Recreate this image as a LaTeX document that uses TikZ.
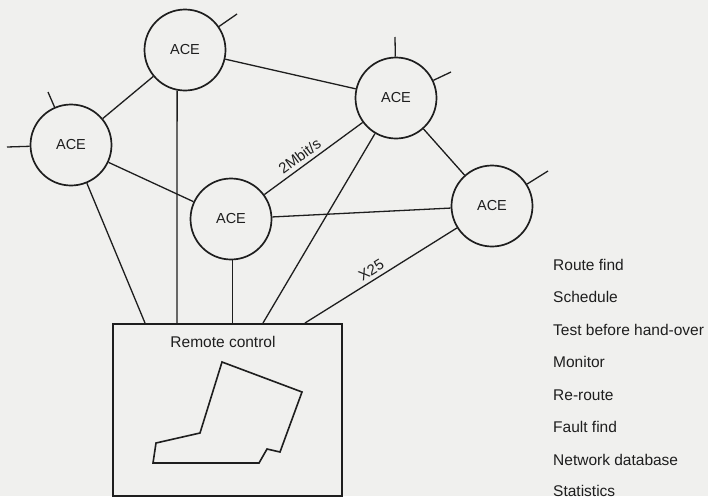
\documentclass[tikz,border=0pt]{standalone}
\usepackage{fontspec}
\setmainfont{Liberation Sans}
\definecolor{bgc}{RGB}{240,240,238}
\definecolor{ink}{RGB}{30,30,30}
\begin{document}
\begin{tikzpicture}[x=1pt,y=-1pt,
  ace/.style={circle,draw=ink,line width=1.7pt,minimum size=81pt,inner sep=0pt,
    text=ink,font=\fontsize{14.5}{17}\selectfont},
  link/.style={draw=ink,line width=1.3pt},
  lbl/.style={text=ink,inner sep=0pt,font=\fontsize{15.5}{18}\selectfont},
  tag/.style={text=ink,font=\fontsize{15}{18}\selectfont,sloped,above,inner sep=4pt}]
\useasboundingbox (0,0) rectangle (708,496);
\fill[bgc] (0,0) rectangle (708,496);
% ACE nodes
\node[ace] (A) at (185,50) {ACE};
\node[ace] (B) at (71,145) {ACE};
\node[ace] (C) at (231,219) {ACE};
\node[ace] (D) at (396,98) {ACE};
\node[ace] (E) at (492,206) {ACE};
% remote control box
\node[draw=ink,line width=1.7pt,minimum width=229pt,minimum height=172pt,inner sep=0pt,
  anchor=north west] (R) at (112,323) {};
\node[lbl,anchor=base] (rc) at (223,347) {Remote control};
\draw[draw=ink,line width=1.6pt] (222,362) -- (302,392) -- (280,452) -- (267,449)
  -- (259,463) -- (153,463) -- (156,443) -- (200,433) -- cycle;
% box attachment points
\coordinate (pB) at (145,323);
\coordinate (pA) at (177,323);
\coordinate (pC) at (232.5,323);
\coordinate (pD) at (263,323);
\coordinate (pE) at (305,323);
% stub ends
\coordinate (sA) at (237,14);
\coordinate (sB1) at (48,92);
\coordinate (sB2) at (7,147);
\coordinate (sD1) at (395,37);
\coordinate (sD2) at (451,72);
\coordinate (sE) at (548,171);
% links between ACEs
\draw[link] (A) -- (B);
\draw[link] (A) -- (D);
\draw[link] (B) -- (C);
\draw[link] (C) -- node[tag,pos=0.42] {2Mbit/s} (D);
\draw[link] (C) -- (E);
\draw[link] (D) -- (E);
% links to remote control
\draw[link] (A.259) -- (pA);
\draw[link] (B) -- (pB);
\draw[link] (C.south -| pC) -- (pC);
\draw[link] (D) -- (pD);
\draw[link] (pE) -- node[tag,pos=0.47] {X25} (E);
% stubs
\draw[link] (A) -- (sA);
\draw[link] (B) -- (sB1);
\draw[link] (B) -- (sB2);
\draw[link] (D) -- (sD1);
\draw[link] (D) -- (sD2);
\draw[link] (E) -- (sE);
% function list
\node[lbl,anchor=base west] (f1) at (553,270) {Route find};
\node[lbl,anchor=base west] (f2) at (553,302.5) {Schedule};
\node[lbl,anchor=base west] (f3) at (553,335) {Test before hand-over};
\node[lbl,anchor=base west] (f4) at (553,367.5) {Monitor};
\node[lbl,anchor=base west] (f5) at (553,400) {Re-route};
\node[lbl,anchor=base west] (f6) at (553,432.5) {Fault find};
\node[lbl,anchor=base west] (f7) at (553,465) {Network database};
\node[lbl,anchor=base west] (f8) at (553,496) {Statistics};
\end{tikzpicture}
\end{document}
